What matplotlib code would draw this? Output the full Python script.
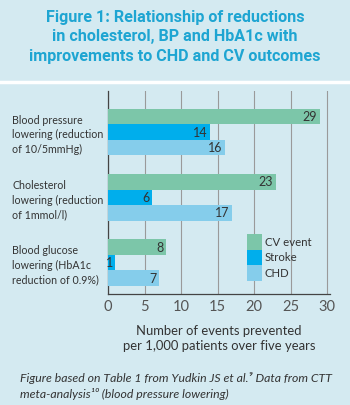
import numpy as np
import matplotlib
matplotlib.use('Agg')
import matplotlib.pyplot as plt
from matplotlib.patches import Patch

# data
groups = ['Blood pressure\nlowering (reduction\nof 10/5mmHg)',
          'Cholesterol\nlowering (reduction\nof 1mmol/l)',
          'Blood glucose\nlowering (HbA1c\nreduction of 0.9%)']
series = ['CV event', 'Stroke', 'CHD']
cv_event = [29, 23, 8]
stroke = [14, 6, 1]
chd = [16, 17, 7]
colors = ['#7cc6a9', '#00aeec', '#85cdeb']

bg = '#d4eaf1'
plt.rcParams['font.family'] = ['Lato', 'DejaVu Sans']

fig = plt.figure(figsize=(3.5, 4.05), dpi=100, facecolor=bg)
# white separator under title
fig.add_artist(plt.Line2D([0, 1], [1 - 81.5 / 405] * 2, color='white', lw=2.5,
                          transform=fig.transFigure))

fig.text(0.5, 1 - 37 / 405,
         'Figure 1: Relationship of reductions\nin cholesterol, BP and HbA1c with\nimprovements to CHD and CV outcomes',
         ha='center', va='center', color='#1ea5d2', fontsize=11.6,
         fontweight='bold', family=['Roboto', 'DejaVu Sans'],
         linespacing=1.38)

ax = fig.add_axes([108 / 350, 1 - 294 / 405, 222 / 350, 203 / 405])
ax.set_facecolor(bg)

y = np.arange(len(groups))
h = 0.237
for i, (vals, c) in enumerate(zip([cv_event, stroke, chd], colors)):
    yy = y + (i - 1) * h
    ax.barh(yy, vals, height=h, color=c, zorder=3, label=series[i])
    for v, yv in zip(vals, yy):
        ax.text(v - 0.35, yv + 0.01, str(v), ha='right', va='center',
                fontsize=9, color='#333333', zorder=4)

ax.set_xlim(0, 30.4)
ax.set_ylim(2.48, -0.626)
ax.set_xticks(range(0, 31, 5))
ax.set_yticks(y)
ax.set_yticklabels(groups, fontsize=7.7, color='#333333', ha='left',
                   linespacing=1.4)
ax.tick_params(axis='y', length=0, pad=69)
ax.tick_params(axis='x', length=0, pad=4, labelsize=10.5, labelcolor='#555555')
ax.grid(axis='x', color='#9a9a9a', lw=0.8, zorder=0)
for s in ['top', 'right']:
    ax.spines[s].set_visible(False)
ax.spines['left'].set_color('#444444')
ax.spines['bottom'].set_color('#444444')
ax.spines['left'].set_linewidth(0.9)
ax.spines['bottom'].set_linewidth(0.9)

ax.set_xlabel('Number of events prevented\nper 1,000 patients over five years',
              fontsize=9.4, color='#333333', labelpad=8, linespacing=1.35)

handles = [Patch(facecolor=c, edgecolor='none') for c in colors]
ax.legend(handles, series, loc='upper left',
          bbox_to_anchor=(247 / 350, 1 - 234 / 405),
          bbox_transform=fig.transFigure, frameon=False, fontsize=8.2,
          handlelength=1.33, handleheight=1.75, labelspacing=0,
          handletextpad=0.25, borderpad=0, borderaxespad=0,
          labelcolor='#333333')

fig.text(20 / 350, 1 - 386 / 405,
         'Figure based on Table 1 from Yudkin JS et al.\u2079 Data from CTT\n'
         'meta-analysis\u00b9\u2070 (blood pressure lowering)',
         ha='left', va='center', fontsize=8.8, style='italic',
         color='#333333', linespacing=1.4)

fig.savefig('out.png', dpi=100, facecolor=bg)
